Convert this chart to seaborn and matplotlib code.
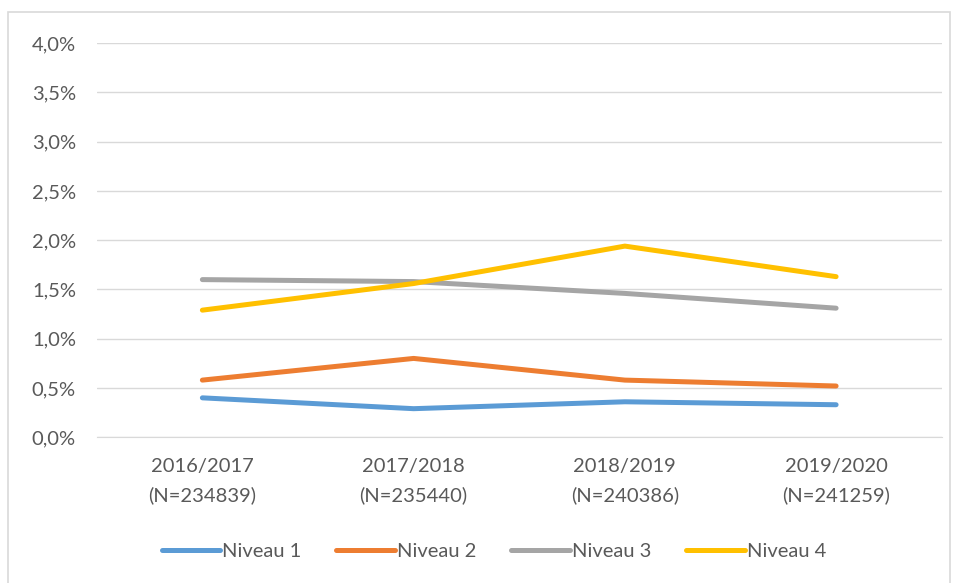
import pandas as pd
import matplotlib.pyplot as plt
import seaborn as sns
from matplotlib.patches import Rectangle
from matplotlib.ticker import FuncFormatter

# Data (percent)
years = ['2016/2017\n(N=234839)', '2017/2018\n(N=235440)',
         '2018/2019\n(N=240386)', '2019/2020\n(N=241259)']
niveau_1 = [0.40, 0.29, 0.36, 0.33]
niveau_2 = [0.58, 0.80, 0.58, 0.52]
niveau_3 = [1.60, 1.58, 1.46, 1.31]
niveau_4 = [1.29, 1.56, 1.94, 1.63]
series_names = ['Niveau 1', 'Niveau 2', 'Niveau 3', 'Niveau 4']
colors = ['#5B9BD5', '#ED7D31', '#A5A5A5', '#FFC000']

rows = []
for name, vals in zip(series_names, [niveau_1, niveau_2, niveau_3, niveau_4]):
    for i, v in enumerate(vals):
        rows.append({'pos': i, 'Jahr': years[i], 'Wert': v, 'Serie': name})
df = pd.DataFrame(rows)

sns.set_style('white')
plt.rcParams['font.family'] = ['Lato', 'DejaVu Sans']

fig = plt.figure(figsize=(9.58, 5.83), dpi=100)
ax = fig.add_axes([0.101, 0.250, 0.882, 0.676])

# outer chart frame
fig.patches.append(Rectangle((8 / 958, -0.05), 942 / 958, 1 - 12 / 583 + 0.05,
                             transform=fig.transFigure, fill=False,
                             edgecolor='#D9D9D9', linewidth=1.2))

sns.lineplot(data=df, x='pos', y='Wert', hue='Serie', palette=colors,
             linewidth=3.6, ax=ax, legend=True)
for line in ax.lines:
    line.set_solid_capstyle('round')

ax.set_xlim(-0.5, 3.5)
ax.set_ylim(0, 4.0)
ax.set_yticks([i * 0.5 for i in range(9)])
ax.yaxis.set_major_formatter(FuncFormatter(lambda v, p: f'{v:.1f}%'.replace('.', ',')))
ax.set_xticks(range(4))
ax.set_xticklabels(years, linespacing=1.75)
ax.grid(axis='y', color='#D9D9D9', linewidth=1)
ax.set_axisbelow(True)
for s in ['top', 'right', 'left']:
    ax.spines[s].set_visible(False)
ax.spines['bottom'].set_color('#D9D9D9')
ax.tick_params(axis='both', length=0, labelsize=14.5, colors='#595959', pad=15)
ax.tick_params(axis='x', pad=15)
ax.set_xlabel('')
ax.set_ylabel('')

handles, labels = ax.get_legend_handles_labels()
ax.legend(handles, labels, loc='center', bbox_to_anchor=(0.47, -0.29), ncol=4,
          frameon=False, fontsize=14.5, labelcolor='#595959', handlelength=2.9,
          handletextpad=0.1, columnspacing=1.75)

fig.savefig('out.png', dpi=100)
